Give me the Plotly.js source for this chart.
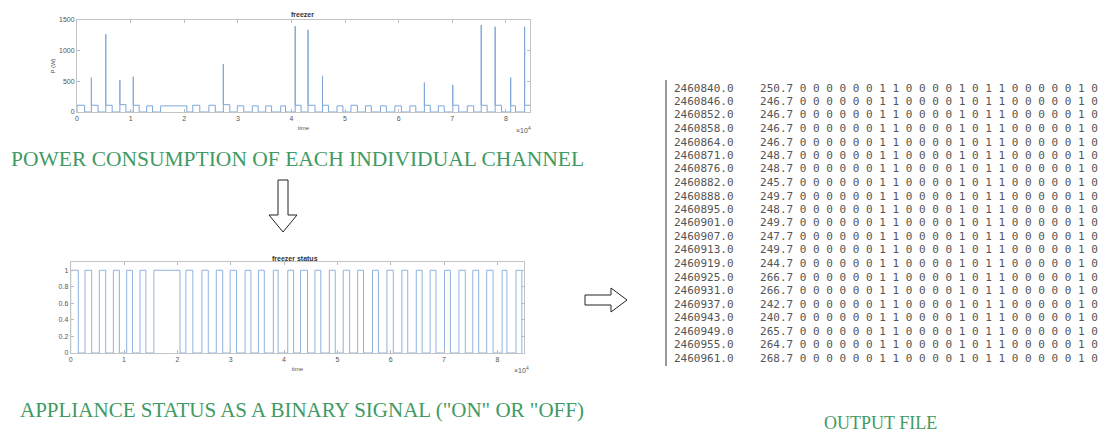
<!DOCTYPE html>
<html>
<head>
<meta charset="utf-8">
<script src="https://cdn.plot.ly/plotly-3.0.1.min.js"></script>
<style>html,body{margin:0;padding:0;background:#fff;}#chart{width:1114px;height:433px;}</style>
</head>
<body>
<div id="chart"></div>
<script>
// ---- data (time in units of 1e4 s) ----
const powerTitle = 'freezer';
const statusTitle = 'freezer status';
const cycleOn  = [0.00,0.268,0.537,0.80,1.05,1.30,1.56,2.16,2.46,2.73,2.99,3.27,3.52,3.80,4.07,4.31,4.58,4.85,5.11,5.38,5.66,5.93,6.21,6.48,6.74,7.01,7.28,7.54,7.80,8.09,8.35];
const cycleOff = [0.143,0.393,0.656,0.912,1.16,1.41,2.05,2.29,2.58,2.85,3.11,3.38,3.63,3.89,4.18,4.44,4.69,4.96,5.23,5.49,5.77,6.05,6.32,6.59,6.85,7.12,7.40,7.65,7.92,8.18,8.46];
const startSpikeW = [0,560,1270,520,575,0,0,0,0,780,0,0,0,0,1400,1340,590,0,0,0,0,0,0,480,0,440,0,1420,1390,560,1390];
const onLevelW = [110,110,110,120,110,100,100,110,110,120,100,100,100,100,110,110,110,100,110,100,100,100,100,110,100,110,100,110,110,100,110];
const powerYTicks = [0,500,1000,1500];
const powerXTicks = [0,1,2,3,4,5,6,7,8];
const statusYTicks = [0,0.2,0.4,0.6,0.8,1];
const statusYLabels = ['0','0.2','0.4','0.6','0.8','1'];

const fileTime  = [2460840.0,2460846.0,2460852.0,2460858.0,2460864.0,2460871.0,2460876.0,2460882.0,2460888.0,2460895.0,2460901.0,2460907.0,2460913.0,2460919.0,2460925.0,2460931.0,2460937.0,2460943.0,2460949.0,2460955.0,2460961.0];
const filePower = [250.7,246.7,246.7,246.7,246.7,248.7,248.7,245.7,249.7,248.7,249.7,247.7,249.7,244.7,266.7,266.7,242.7,240.7,265.7,264.7,268.7];
const fileStates = [0,0,0,0,0,0,1,1,0,0,0,0,1,0,1,1,0,0,0,0,0,1,0];

const labelPower = 'POWER CONSUMPTION OF EACH INDIVIDUAL CHANNEL';
const labelStatus = 'APPLIANCE STATUS AS A BINARY SIGNAL ("ON" OR "OFF)';
const labelFile = 'OUTPUT FILE';

// ---- build traces ----
const W = 1114, H = 433;
const px = x => x / W;
const py = y => 1 - y / H;

const pX = [], pY = [];
for (let i = 0; i < cycleOn.length; i++) {
  pX.push(cycleOn[i], cycleOn[i]);
  pY.push(0, startSpikeW[i] > 0 ? startSpikeW[i] : onLevelW[i]);
  pX.push(cycleOn[i], cycleOff[i], cycleOff[i]);
  pY.push(onLevelW[i], onLevelW[i], 0);
  if (i + 1 < cycleOn.length) { pX.push(cycleOn[i + 1]); pY.push(0); }
}
const sX = [], sY = [];
for (let i = 0; i < cycleOn.length; i++) {
  sX.push(cycleOn[i], cycleOn[i], cycleOff[i], cycleOff[i]);
  sY.push(0, 1, 1, 0);
}

const traces = [
  {x: pX, y: pY, type: 'scatter', mode: 'lines', line: {color: '#7ea6d8', width: 1}, xaxis: 'x', yaxis: 'y', hoverinfo: 'skip'},
  {x: sX, y: sY, type: 'scatter', mode: 'lines', line: {color: '#8fb3df', width: 1}, xaxis: 'x2', yaxis: 'y2', hoverinfo: 'skip'}
];

const tickFont = {family: 'Liberation Sans, Arial, sans-serif', size: 7, color: '#555'};
const axBase = {showline: true, mirror: 'ticks', linecolor: '#c4c4c4', linewidth: 1, ticks: 'inside', ticklen: 3, tickcolor: '#bbb', showgrid: false, zeroline: false, tickfont: tickFont, fixedrange: true};

const annotations = [];
function note(text, x, y, font, xanchor) {
  annotations.push({text: text, x: px(x), y: py(y), xref: 'paper', yref: 'paper', xanchor: xanchor || 'center', yanchor: 'middle', showarrow: false, font: font});
}
// chart titles and misc labels
note('<b>' + powerTitle + '</b>', 302, 15, {family: 'Liberation Sans, Arial', size: 7, color: '#333'});
note('<b>' + statusTitle + '</b>', 295, 258, {family: 'Liberation Sans, Arial', size: 7, color: '#333'});
note('×10<sup>4</sup>', 523, 130, tickFont);
note('×10<sup>4</sup>', 521, 370, tickFont);
// green captions
note(labelPower, 297, 159, {family: 'Liberation Serif, serif', size: 21.5, color: '#3f9a63'});
note(labelStatus, 302, 410, {family: 'Liberation Serif, serif', size: 21, color: '#3f9a63'});
note(labelFile, 880, 423, {family: 'Liberation Serif, serif', size: 18, color: '#3f9a63'});
// output file rows
const nb = '\u00a0';
for (let i = 0; i < fileTime.length; i++) {
  const row = fileTime[i].toFixed(1) + nb.repeat(4) + filePower[i].toFixed(1) + nb + fileStates.join(nb);
  note(row, 672, 88 + i * 13.5, {family: 'DejaVu Sans Mono, monospace', size: 11, color: '#555'}, 'left');
}

const shapes = [
  {type: 'line', xref: 'paper', yref: 'paper', x0: px(666), x1: px(666), y0: py(80), y1: py(366), line: {color: '#999', width: 2}},
  {type: 'path', xref: 'paper', yref: 'paper', fillcolor: '#fff', line: {color: '#222', width: 1},
   path: `M ${px(278)},${py(180)} L ${px(288)},${py(180)} L ${px(288)},${py(215)} L ${px(297)},${py(215)} L ${px(283)},${py(232)} L ${px(269)},${py(215)} L ${px(278)},${py(215)} Z`},
  {type: 'path', xref: 'paper', yref: 'paper', fillcolor: '#fff', line: {color: '#222', width: 1},
   path: `M ${px(585)},${py(295)} L ${px(611)},${py(295)} L ${px(611)},${py(288)} L ${px(627)},${py(300)} L ${px(611)},${py(312)} L ${px(611)},${py(305)} L ${px(585)},${py(305)} Z`}
];

const layout = {
  width: W, height: H,
  margin: {l: 0, r: 0, t: 0, b: 0},
  paper_bgcolor: '#fff', plot_bgcolor: '#fff',
  showlegend: false,
  xaxis: Object.assign({}, axBase, {domain: [px(77), px(530)], range: [0, 8.45], tickvals: powerXTicks, anchor: 'y',
    title: {text: 'time', font: {family: 'Liberation Sans, Arial', size: 6, color: '#555'}, standoff: 4}}),
  yaxis: Object.assign({}, axBase, {domain: [py(112), py(20)], range: [0, 1500], tickvals: powerYTicks, anchor: 'x',
    title: {text: 'P (W)', font: {family: 'Liberation Sans, Arial', size: 6, color: '#555'}, standoff: 2}}),
  xaxis2: Object.assign({}, axBase, {domain: [px(70.7), px(524)], range: [0, 8.5], tickvals: powerXTicks, anchor: 'y2',
    title: {text: 'time', font: {family: 'Liberation Sans, Arial', size: 6, color: '#555'}, standoff: 4}}),
  yaxis2: Object.assign({}, axBase, {domain: [py(353), py(262)], range: [0, 1.1], tickvals: statusYTicks, ticktext: statusYLabels, anchor: 'x2'}),
  annotations: annotations,
  shapes: shapes
};

Plotly.newPlot('chart', traces, layout, {displayModeBar: false, staticPlot: true});
</script>
</body>
</html>
